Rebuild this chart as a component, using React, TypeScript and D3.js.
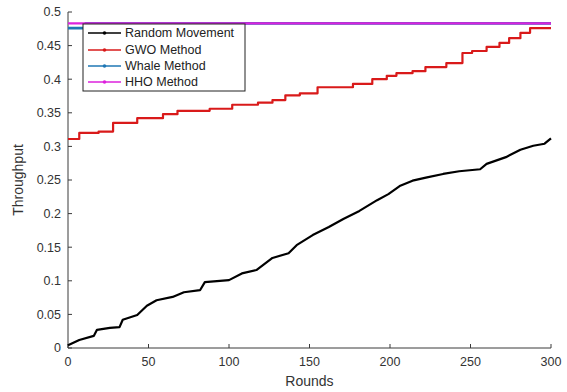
import React from "react";
import * as d3 from "d3";

const xTicks = [0, 50, 100, 150, 200, 250, 300];
const yTicks = [0, 0.05, 0.1, 0.15, 0.2, 0.25, 0.3, 0.35, 0.4, 0.45, 0.5];

const randomRounds = [0, 7, 16, 18, 26, 32, 34, 43, 49, 55, 65, 72, 82, 85, 100, 108, 117, 127, 137, 142, 144, 152, 162, 171, 181, 192, 199, 206, 214, 223, 233, 243, 256, 260, 272, 281, 289, 296, 300];
const randomValues = [0.004, 0.012, 0.018, 0.027, 0.030, 0.031, 0.042, 0.049, 0.063, 0.071, 0.076, 0.083, 0.086, 0.098, 0.101, 0.111, 0.116, 0.134, 0.141, 0.153, 0.156, 0.168, 0.180, 0.192, 0.204, 0.220, 0.229, 0.241, 0.249, 0.254, 0.259, 0.263, 0.266, 0.274, 0.284, 0.295, 0.301, 0.304, 0.312];

const gwoRounds = [0, 7, 19, 28, 43, 59, 68, 88, 102, 118, 127, 135, 144, 155, 177, 189, 198, 204, 214, 222, 235, 245, 251, 260, 268, 274, 281, 287, 300];
const gwoValues = [0.311, 0.320, 0.322, 0.335, 0.342, 0.348, 0.353, 0.356, 0.362, 0.365, 0.369, 0.376, 0.379, 0.388, 0.393, 0.400, 0.405, 0.409, 0.412, 0.418, 0.424, 0.439, 0.442, 0.448, 0.454, 0.461, 0.469, 0.476, 0.476];

const whaleRounds = [0, 10, 11, 300];
const whaleValues = [0.476, 0.476, 0.483, 0.483];

const hhoRounds = [0, 300];
const hhoValues = [0.483, 0.483];

const seriesNames = ["Random Movement", "GWO Method", "Whale Method", "HHO Method"];
const seriesColors = ["#000000", "#d91a1a", "#1f77b4", "#dd22dd"];

const W = 567, H = 392;
const m = { left: 68, right: 16, top: 12, bottom: 44 };

export default function App() {
  const x = d3.scaleLinear().domain([0, 300]).range([m.left, W - m.right]);
  const y = d3.scaleLinear().domain([0, 0.5]).range([H - m.bottom, m.top]);
  const stepLine = d3
    .line<[number, number]>()
    .x((d) => x(d[0]))
    .y((d) => y(d[1]))
    .curve(d3.curveStepAfter);
  const linLine = d3
    .line<[number, number]>()
    .x((d) => x(d[0]))
    .y((d) => y(d[1]));

  const series = [
    d3.zip(randomRounds, randomValues) as [number, number][],
    d3.zip(gwoRounds, gwoValues) as [number, number][],
    d3.zip(whaleRounds, whaleValues) as [number, number][],
    d3.zip(hhoRounds, hhoValues) as [number, number][],
  ];

  const font = "Liberation Sans, Arial, Helvetica, sans-serif";
  const axisColor = "#3a3a3a";
  const textColor = "#333";

  const lgX = 83, lgY = 24, lgW = 162, lgH = 67;
  const rowY = [33, 50, 66, 82];

  return (
    <svg
      width={W}
      height={H}
      style={{ position: "absolute", left: 0, top: 0, background: "#fff" }}
      fontFamily={font}
    >
      {/* axes */}
      <line x1={m.left} x2={m.left} y1={y(0.5)} y2={y(0)} stroke={axisColor} strokeWidth={1} />
      <line x1={m.left} x2={x(300)} y1={y(0)} y2={y(0)} stroke={axisColor} strokeWidth={1} />
      {yTicks.map((t) => (
        <g key={"y" + t}>
          <line x1={m.left} x2={m.left + 4} y1={y(t)} y2={y(t)} stroke={axisColor} />
          <text x={m.left - 7} y={y(t)} dy="0.35em" textAnchor="end" fontSize={12.5} fill={textColor}>
            {t}
          </text>
        </g>
      ))}
      {xTicks.map((t) => (
        <g key={"x" + t}>
          <line x1={x(t)} x2={x(t)} y1={y(0)} y2={y(0) - 4} stroke={axisColor} />
          <text x={x(t)} y={y(0) + 18} textAnchor="middle" fontSize={12.5} fill={textColor}>
            {t}
          </text>
        </g>
      ))}
      <text x={(m.left + x(300)) / 2} y={386} textAnchor="middle" fontSize={14} fill={textColor}>
        Rounds
      </text>
      <text
        transform={`translate(23,${(y(0) + y(0.5)) / 2}) rotate(-90)`}
        textAnchor="middle"
        fontSize={14}
        fill={textColor}
      >
        Throughput
      </text>

      {/* data */}
      {series.map((s, i) => (
        <path
          key={i}
          d={(i === 0 ? linLine(s) : stepLine(s)) || ""}
          fill="none"
          stroke={seriesColors[i]}
          strokeWidth={i === 2 ? 2.8 : 2.2}
          strokeLinejoin="round"
        />
      ))}

      {/* legend */}
      <rect x={lgX} y={lgY} width={lgW} height={lgH} fill="#fff" stroke="#222" strokeWidth={1} />
      {seriesNames.map((n, i) => (
        <g key={n}>
          <line x1={88} x2={121} y1={rowY[i]} y2={rowY[i]} stroke={seriesColors[i]} strokeWidth={1.5} />
          <circle cx={104.5} cy={rowY[i]} r={1.8} fill={seriesColors[i]} />
          <text x={125} y={rowY[i]} dy="0.35em" fontSize={12.5} fill="#222">
            {n}
          </text>
        </g>
      ))}
    </svg>
  );
}
